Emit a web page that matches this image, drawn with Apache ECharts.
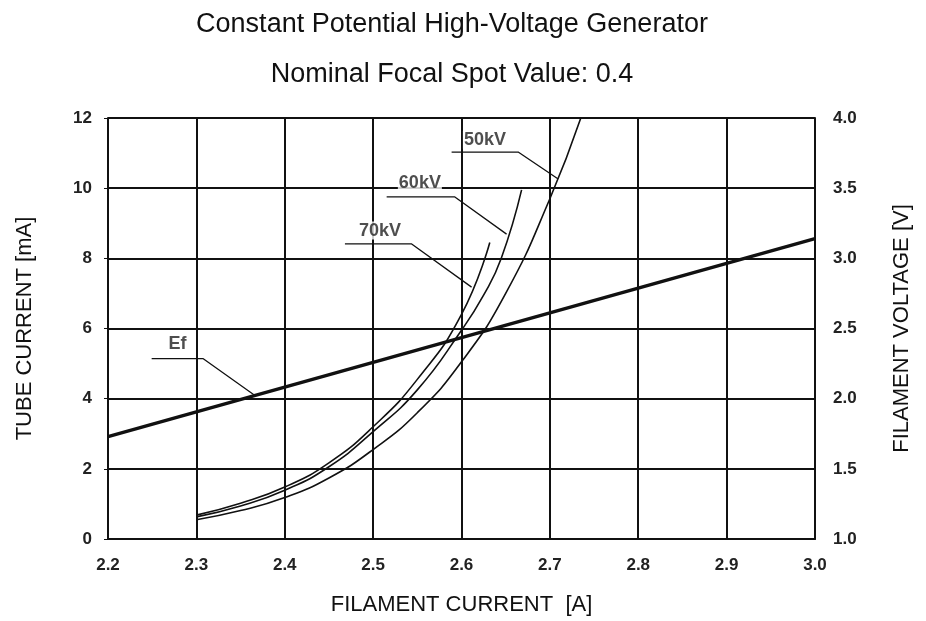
<!DOCTYPE html>
<html><head><meta charset="utf-8">
<script src="https://cdn.jsdelivr.net/npm/echarts@6/dist/echarts.min.js"></script>
<style>html,body{margin:0;padding:0;background:#fff}#c{width:926px;height:621px}</style>
</head><body><div id="c"></div><script>
// ---- data ----
const titleText = 'Constant Potential High-Voltage Generator';
const subtitleText = 'Nominal Focal Spot Value: 0.4';
const xName = 'FILAMENT CURRENT  [A]';
const yLeftName = 'TUBE CURRENT [mA]';
const yRightName = 'FILAMENT VOLTAGE [V]';

// tube current [mA] vs filament current [A]
const curve50kV = [[2.30,0.55],[2.35,0.81],[2.40,1.18],[2.45,1.74],[2.50,2.55],[2.55,3.6],[2.60,5.05],[2.65,7.0],[2.70,9.7],[2.735,12.0]];
const curve60kV = [[2.30,0.63],[2.35,0.94],[2.40,1.39],[2.45,2.06],[2.50,3.06],[2.55,4.25],[2.60,5.95],[2.625,6.95],[2.645,8.0],[2.668,9.95]];
const curve70kV = [[2.30,0.68],[2.35,1.02],[2.40,1.48],[2.45,2.17],[2.50,3.20],[2.55,4.55],[2.60,6.4],[2.632,8.45]];
// filament voltage [V] vs filament current [A]
const curveEf = [[2.2,1.73],[3.0,3.14]];

// annotation labels and leader lines (left-axis coordinates)
const labelNames = ['50kV','60kV','70kV','Ef'];
const labelPos = [[2.6265,11.38],[2.5529,10.15],[2.5077,8.79],[2.2786,5.55]];
const leader50 = [[2.5888,11.03],[2.6641,11.03],[2.7094,10.26]];
const leader60 = [[2.5153,9.75],[2.5925,9.75],[2.6510,8.69]];
const leader70 = [[2.4681,8.41],[2.5436,8.41],[2.6114,7.18]];
const leaderEf = [[2.2494,5.14],[2.3078,5.14],[2.3663,4.09]];

const xMin = 2.2, xMax = 3.0, xStep = 0.1;
const yLeftMin = 0, yLeftMax = 12, yLeftStep = 2;
const yRightMin = 1.0, yRightMax = 4.0, yRightStep = 0.5;

// ---- chart ----
const FONT = '"Liberation Sans", Arial, sans-serif';
const INK = '#111';
const chart = echarts.init(document.getElementById('c'), null, {renderer:'canvas'});

function curveSeries(name, data, yIdx, width){
  return {name, type:'line', data, yAxisIndex:yIdx, smooth:0.5, showSymbol:false, symbol:'none', silent:true,
    lineStyle:{color:INK, width:width}, z:5};
}
function leaderSeries(data){
  return {type:'line', data, yAxisIndex:0, showSymbol:false, symbol:'none', silent:true,
    lineStyle:{color:INK, width:1.3}, z:6};
}

const option = {
  backgroundColor:'#fff',
  animation:false,
  title:[
    {text:titleText, left:447, top:6, textAlign:'center',
     textStyle:{fontFamily:FONT, fontSize:27, fontWeight:'normal', color:INK}},
    {text:subtitleText, left:447, top:56, textAlign:'center',
     textStyle:{fontFamily:FONT, fontSize:27, fontWeight:'normal', color:INK}}
  ],
  grid:{left:108, right:111, top:118, bottom:77, containLabel:false},
  xAxis:{type:'value', min:xMin, max:xMax, interval:xStep,
    name:xName, nameLocation:'middle', nameGap:55,
    nameTextStyle:{fontFamily:FONT, fontSize:22, color:INK},
    axisLine:{show:true, lineStyle:{color:INK, width:2}},
    axisTick:{show:false},
    axisLabel:{fontFamily:FONT, fontSize:17, fontWeight:'bold', color:'#222', margin:18, formatter:v=>v.toFixed(1)},
    splitLine:{show:true, lineStyle:{color:INK, width:2}}
  },
  yAxis:[
    {type:'value', min:yLeftMin, max:yLeftMax, interval:yLeftStep, position:'left',
     name:yLeftName, nameLocation:'middle', nameGap:72, nameRotate:90,
     nameTextStyle:{fontFamily:FONT, fontSize:22, color:INK},
     axisLine:{show:true, lineStyle:{color:INK, width:2}},
     axisTick:{show:true, length:4, lineStyle:{color:INK}},
     axisLabel:{fontFamily:FONT, fontSize:17, fontWeight:'bold', color:'#222', margin:16},
     splitLine:{show:true, lineStyle:{color:INK, width:2}}
    },
    {type:'value', min:yRightMin, max:yRightMax, interval:yRightStep, position:'right',
     name:yRightName, nameLocation:'middle', nameGap:76, nameRotate:90,
     nameTextStyle:{fontFamily:FONT, fontSize:22, color:INK},
     axisLine:{show:true, lineStyle:{color:INK, width:2}},
     axisTick:{show:false},
     axisLabel:{fontFamily:FONT, fontSize:17, fontWeight:'bold', color:'#222', margin:18, formatter:v=>v.toFixed(1)},
     splitLine:{show:false}
    }
  ],
  series:[
    curveSeries('50kV', curve50kV, 0, 1.6),
    curveSeries('60kV', curve60kV, 0, 1.6),
    curveSeries('70kV', curve70kV, 0, 1.6),
    {name:'Ef', type:'line', data:curveEf, yAxisIndex:1, showSymbol:false, symbol:'none', silent:true,
     lineStyle:{color:INK, width:3.4}, z:5},
    leaderSeries(leader50), leaderSeries(leader60), leaderSeries(leader70), leaderSeries(leaderEf),
    {type:'scatter', yAxisIndex:0, symbolSize:0, silent:true, z:7,
     data:labelNames.map((n,i)=>({name:n, value:labelPos[i]})),
     label:{show:true, position:'inside', formatter:p=>p.name,
       fontFamily:FONT, fontSize:18, fontWeight:'bold', color:'#222', backgroundColor:'#fff', padding:[0,1]}}
  ]
};
chart.setOption(option);
</script></body></html>
